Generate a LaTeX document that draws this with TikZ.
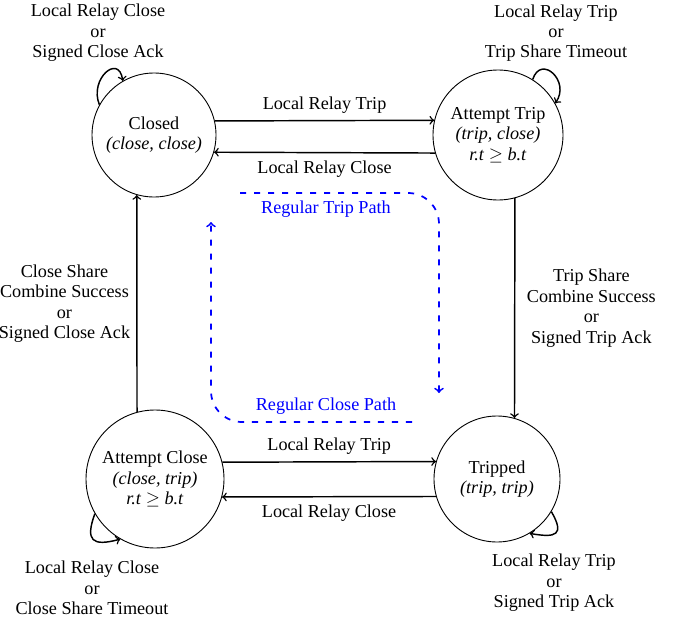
\documentclass[tikz,border=0pt]{standalone}
\usepackage{fontspec}
\setmainfont{Liberation Serif}
\begin{document}
\begin{tikzpicture}[x=0.55pt,y=0.55pt,
  every node/.style={font=\fontsize{10}{11.2}\selectfont},
  state/.style={circle, draw, line width=0.5pt, inner sep=0pt, align=center},
  edge/.style={->, line width=0.8pt},
  lbl/.style={align=center},
  flow/.style={->, blue, line width=0.95pt, dash pattern=on 3.4pt off 4.3pt, rounded corners=17pt},
  flowlbl/.style={text=blue}]
\useasboundingbox (0,0) rectangle (678,-619);
\clip (0,0) rectangle (678,-619);

% states
\node[state, minimum size=68.2pt] (closed) at (154,-135) {Closed\\\textit{(close, close)}};
\node[state, minimum size=71.5pt] (atrip) at (498,-135) {Attempt Trip\\\textit{(trip, close)}\\\textit{r.t} $\geq$ \textit{b.t}};
\node[state, minimum size=75.9pt] (aclose) at (155,-479) {Attempt Close\\\textit{(close, trip)}\\\textit{r.t} $\geq$ \textit{b.t}};
\node[state, minimum size=69.3pt] (tripped) at (497,-479) {Tripped\\\textit{(trip, trip)}};

% transitions between states
\draw[edge] (closed.13) -- node[above=0.2pt] (l1) {Local Relay Trip} (atrip.167.6);
\draw[edge] (atrip.196.1) -- node[below=1pt] (l2) {Local Relay Close} (closed.-16.9);
\draw[edge] (aclose.14.3) -- node[above=0.2pt] (l3) {Local Relay Trip} (tripped.164.35);
\draw[edge] (tripped.196.6) -- node[below=0.5pt] (l4) {Local Relay Close} (aclose.-15.1);
\draw[edge] (atrip.-75.75) -- node[right=3pt, lbl] (l5) {Trip Share\\Combine Success\\or\\Signed Trip Ack} (tripped.74.35);
\draw[edge] (aclose.105.1) -- node[left, lbl] (l6) {Close Share\\Combine Success\\or\\Signed Close Ack} (closed.254.1);

% self loops
\draw[edge] (closed.151) .. controls +(112:28) and +(98:28) .. (closed.120);
\draw[edge] (atrip.58) .. controls +(72:27) and +(55:27) .. (atrip.29);
\draw[edge] (aclose.210) .. controls +(250:29) and +(195:29) .. (aclose.240);
\draw[edge] (tripped.329) .. controls +(300:27) and +(350:27) .. (tripped.301);

\node[lbl] (loopclosed) at (98,-33) {Local Relay Close\\or\\Signed Close Ack};
\node[lbl] (looptrip) at (556,-33) {Local Relay Trip\\or\\Trip Share Timeout};
\node[lbl] (loopaclose) at (92,-588) {Local Relay Close\\or\\Close Share Timeout};
\node[lbl] (looptripped) at (554,-583) {Local Relay Trip\\or\\Signed Trip Ack};

% regular paths
\draw[flow] (240,-193) -- (439,-193) -- (439,-393);
\node[flowlbl] (tripflow) at (326,-209) {Regular Trip Path};
\draw[flow] (412,-422) -- (211,-422) -- (211,-222);
\node[flowlbl] (closeflow) at (326,-406) {Regular Close Path};
\end{tikzpicture}
\end{document}
